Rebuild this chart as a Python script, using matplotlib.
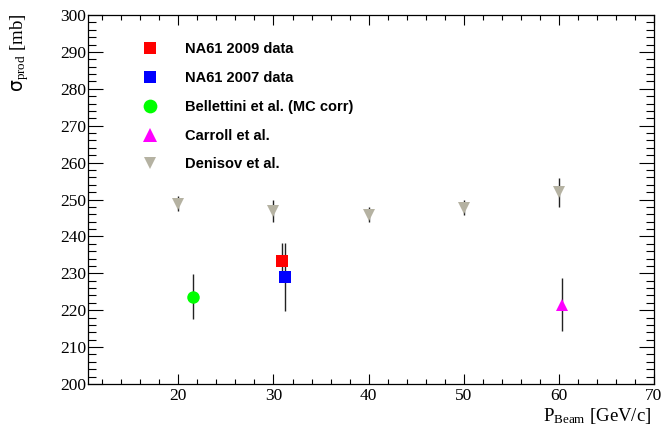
import matplotlib
matplotlib.use("Agg")
import matplotlib.pyplot as plt
from matplotlib.ticker import MultipleLocator

plt.rcParams['mathtext.fontset'] = 'custom'
plt.rcParams['mathtext.rm'] = 'Liberation Serif'
plt.rcParams['mathtext.it'] = 'Liberation Serif:italic'
plt.rcParams['mathtext.sf'] = 'DejaVu Sans'

# Data
na61_2009_x = [30.85]
na61_2009_y = [233.2]
na61_2009_err = [5.0]

na61_2007_x = [31.25]
na61_2007_y = [228.9]
na61_2007_err = [9.2]

bell_x = [21.5]
bell_y = [223.7]
bell_err = [6.0]

carroll_x = [60.3]
carroll_y = [221.5]
carroll_err = [7.1]

denisov_x = [20, 30, 40, 50, 60]
denisov_y = [248.9, 246.9, 245.9, 247.8, 251.9]
denisov_err = [2.1, 3.0, 2.0, 2.0, 4.0]

labels = ["NA61 2009 data", "NA61 2007 data", "Bellettini et al. (MC corr)",
          "Carroll et al.", "Denisov et al."]

fig = plt.figure(figsize=(6.64, 4.29), dpi=100)
ax = fig.add_axes([88/664, 45/429, (654-88)/664, (384-15)/429])

ebkw = dict(ecolor='#222222', elinewidth=1.0, capsize=2.5, capthick=1.0, linestyle='none')

h5 = ax.errorbar(denisov_x, denisov_y, yerr=denisov_err, marker='v', markersize=8.5,
                 color='#b5b2a2', markeredgewidth=0, **ebkw)
h3 = ax.errorbar(bell_x, bell_y, yerr=bell_err, marker='o', markersize=9,
                 color='#00ff00', markeredgewidth=0, **ebkw)
h4 = ax.errorbar(carroll_x, carroll_y, yerr=carroll_err, marker='^', markersize=9,
                 color='#ff00ff', markeredgewidth=0, **ebkw)
h2 = ax.errorbar(na61_2007_x, na61_2007_y, yerr=na61_2007_err, marker='s', markersize=8.5,
                 color='#0000ff', markeredgewidth=0, **ebkw)
h1 = ax.errorbar(na61_2009_x, na61_2009_y, yerr=na61_2009_err, marker='s', markersize=8.5,
                 color='#ff0000', markeredgewidth=0, **ebkw)

ax.set_xlim(10.5, 70)
ax.set_ylim(200, 300)

ax.xaxis.set_major_locator(MultipleLocator(10))
ax.xaxis.set_minor_locator(MultipleLocator(2))
ax.yaxis.set_major_locator(MultipleLocator(10))
ax.yaxis.set_minor_locator(MultipleLocator(2))

ax.tick_params(axis='x', which='major', direction='in', length=7, width=0.8, top=True, bottom=True)
ax.tick_params(axis='x', which='minor', direction='in', length=3.5, width=0.8, top=True, bottom=True)
ax.tick_params(axis='y', which='major', direction='in', length=11, width=0.8, left=True, right=True)
ax.tick_params(axis='y', which='minor', direction='in', length=5.5, width=0.8, left=True, right=True)
ax.tick_params(axis='both', which='major', labelsize=12.5)
ax.tick_params(axis='x', which='major', pad=3)
ax.tick_params(axis='y', which='major', pad=1.5)
for lab in ax.get_xticklabels() + ax.get_yticklabels():
    lab.set_fontfamily('Liberation Serif')
for s in ax.spines.values():
    s.set_linewidth(0.9)

fig.text(20/664, 1 - 14/429, r'$\mathsf{\sigma}_{\rm prod}$ [mb]', rotation=90,
         ha='center', va='top', fontsize=13.5, family='Liberation Serif')
fig.text(651/664, 1 - 426/429, r'P$_{\rm Beam}$ [GeV/c]',
         ha='right', va='bottom', fontsize=13.5, family='Liberation Serif')

leg = ax.legend([h1[0], h2[0], h3[0], h4[0], h5[0]], labels,
                loc='upper left', bbox_to_anchor=(143/664, 1 - 42/429),
                bbox_transform=fig.transFigure, frameon=False,
                prop={'family': 'Liberation Sans', 'weight': 'bold', 'size': 10.5},
                handlelength=1.0, handletextpad=1.9, labelspacing=1.02, borderpad=0,
                borderaxespad=0, numpoints=1, markerscale=1.1)

fig.savefig('out.png', dpi=100)
